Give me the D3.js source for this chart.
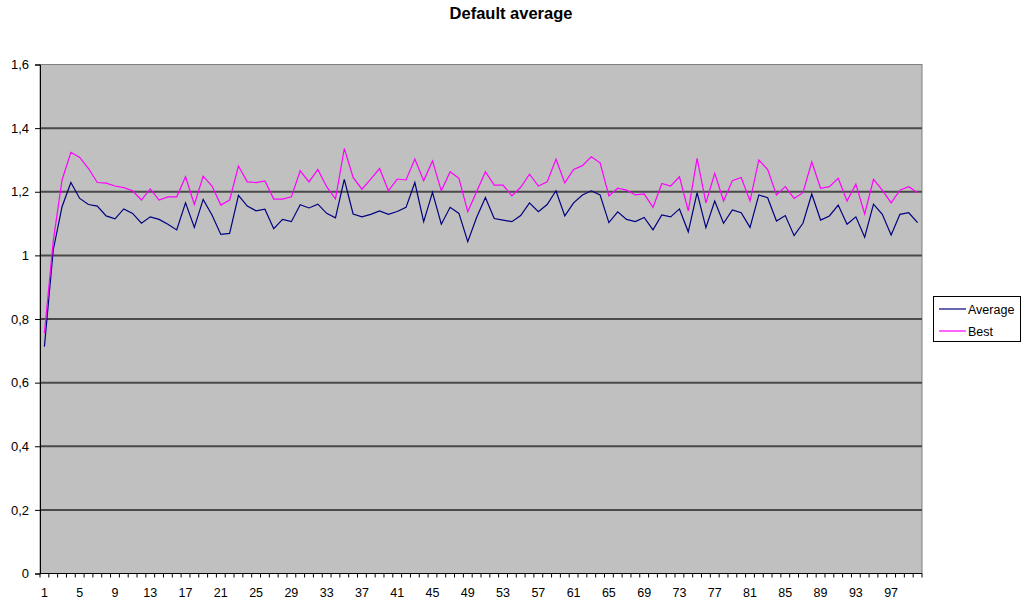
<!DOCTYPE html>
<html><head><meta charset="utf-8">
<script src="https://cdn.jsdelivr.net/npm/d3@7"></script>
<style>body{margin:0;background:#fff;}svg{display:block;font-family:"Liberation Sans",Arial,sans-serif;}</style>
</head><body>
<svg id="chart" width="1022" height="604"></svg>
<script>
const categories = d3.range(1, 101);
const averageValues = [0.713,1.017,1.153,1.229,1.179,1.160,1.155,1.124,1.115,1.146,
1.132,1.101,1.121,1.113,1.098,1.080,1.165,1.088,1.176,1.127,
1.066,1.069,1.189,1.155,1.140,1.145,1.084,1.113,1.106,1.159,
1.149,1.161,1.132,1.118,1.239,1.130,1.121,1.129,1.140,1.129,
1.138,1.151,1.229,1.106,1.198,1.098,1.151,1.132,1.043,1.119,
1.182,1.116,1.111,1.106,1.125,1.165,1.137,1.160,1.203,1.124,
1.165,1.190,1.203,1.190,1.103,1.137,1.113,1.106,1.119,1.080,
1.127,1.121,1.146,1.074,1.197,1.087,1.171,1.101,1.143,1.134,
1.088,1.190,1.181,1.108,1.125,1.062,1.101,1.193,1.111,1.124,
1.158,1.098,1.121,1.057,1.161,1.129,1.064,1.129,1.134,1.103];
const bestValues = [0.755,1.045,1.237,1.324,1.308,1.273,1.229,1.227,1.218,1.213,
1.203,1.174,1.209,1.174,1.184,1.184,1.247,1.160,1.249,1.218,
1.158,1.174,1.281,1.231,1.229,1.234,1.177,1.177,1.184,1.266,
1.231,1.270,1.216,1.177,1.336,1.245,1.208,1.240,1.273,1.203,
1.240,1.237,1.303,1.235,1.297,1.203,1.263,1.242,1.137,1.200,
1.263,1.221,1.221,1.187,1.214,1.255,1.218,1.231,1.302,1.228,
1.270,1.282,1.310,1.291,1.187,1.211,1.205,1.190,1.193,1.151,
1.226,1.218,1.247,1.140,1.305,1.165,1.258,1.171,1.235,1.245,
1.171,1.300,1.270,1.190,1.216,1.179,1.197,1.294,1.211,1.216,
1.242,1.171,1.224,1.130,1.239,1.205,1.165,1.205,1.216,1.197];
const yTicks = [0,0.2,0.4,0.6,0.8,1.0,1.2,1.4,1.6];
const xLabelCats = categories.filter(c => (c - 1) % 4 === 0);
const seriesNames = ["Average", "Best"];
const seriesColors = ["#000080", "#ff00ff"];

const L = 40, R = 922, T = 64.5, B = 573.5;
const svg = d3.select("#chart");
const x = d3.scaleBand().domain(categories).range([L, R]).padding(0);
const y = d3.scaleLinear().domain([0, 1.6]).range([B, T]);
const cx = c => x(c) + x.bandwidth() / 2;

// title
svg.append("text").attr("x", 511).attr("y", 19).attr("text-anchor", "middle")
  .attr("font-size", 16.5).attr("font-weight", "bold").text("Default average");

// plot background
svg.append("rect").attr("x", L).attr("y", T).attr("width", R - L).attr("height", B - T)
  .attr("fill", "#c0c0c0").attr("stroke", "#808080").attr("stroke-width", 1);

// gridlines
svg.append("g").selectAll("line").data(yTicks.filter(v => v > 0 && v < 1.6)).join("line")
  .attr("x1", L).attr("x2", R).attr("y1", d => y(d)).attr("y2", d => y(d))
  .attr("stroke", "#4a4a4a").attr("stroke-width", 2);

// y axis
const yAxis = d3.axisLeft(y).tickValues(yTicks).tickSize(5).tickPadding(6)
  .tickFormat(d => d3.format("")(+d.toFixed(1)).replace(".", ","));
const gy = svg.append("g").attr("transform", `translate(${L},0)`).call(yAxis);
gy.select(".domain").attr("stroke", "#000");
gy.selectAll("text").attr("font-size", 13).attr("fill", "#000").attr("font-family", "Liberation Sans, Arial, sans-serif");

// x axis
const gx = svg.append("g");
gx.append("line").attr("x1", L).attr("x2", R).attr("y1", B).attr("y2", B).attr("stroke", "#000");
gx.selectAll("line.tick").data(categories.concat([null])).join("line").attr("class", "tick")
  .attr("x1", d => d === null ? R : x(d)).attr("x2", d => d === null ? R : x(d))
  .attr("y1", B).attr("y2", B + 4).attr("stroke", "#000");
gx.selectAll("text").data(xLabelCats).join("text")
  .attr("x", d => cx(d)).attr("y", B + 23).attr("text-anchor", "middle")
  .attr("font-size", 12.5).text(d => d);

// lines
const line = d3.line().x((d, i) => cx(categories[i])).y(d => y(d));
[averageValues, bestValues].forEach((vals, i) => {
  svg.append("path").datum(vals).attr("d", line).attr("fill", "none")
    .attr("stroke", seriesColors[i]).attr("stroke-width", 1.2).attr("stroke-linejoin", "miter");
});

// legend
const lg = svg.append("g");
lg.append("rect").attr("x", 933.5).attr("y", 296.5).attr("width", 87).attr("height", 45)
  .attr("fill", "#fff").attr("stroke", "#000");
seriesNames.forEach((n, i) => {
  const yy = 309 + i * 22;
  lg.append("line").attr("x1", 939).attr("x2", 966).attr("y1", yy).attr("y2", yy)
    .attr("stroke", seriesColors[i]).attr("stroke-width", 1.2);
  lg.append("text").attr("x", 968).attr("y", yy + 4.5).attr("font-size", 12.5).text(n);
});
</script>
</body></html>
